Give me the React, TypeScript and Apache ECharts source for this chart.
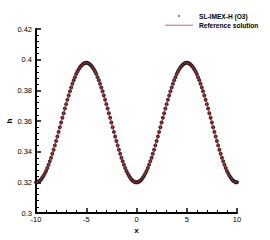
import React, { useEffect, useRef } from "react";
import * as echarts from "echarts";

const xNumerical = [
  -10, -9.875, -9.75, -9.625, -9.5, -9.375, -9.25, -9.125,
  -9, -8.875, -8.75, -8.625, -8.5, -8.375, -8.25, -8.125,
  -8, -7.875, -7.75, -7.625, -7.5, -7.375, -7.25, -7.125,
  -7, -6.875, -6.75, -6.625, -6.5, -6.375, -6.25, -6.125,
  -6, -5.875, -5.75, -5.625, -5.5, -5.375, -5.25, -5.125,
  -5, -4.875, -4.75, -4.625, -4.5, -4.375, -4.25, -4.125,
  -4, -3.875, -3.75, -3.625, -3.5, -3.375, -3.25, -3.125,
  -3, -2.875, -2.75, -2.625, -2.5, -2.375, -2.25, -2.125,
  -2, -1.875, -1.75, -1.625, -1.5, -1.375, -1.25, -1.125,
  -1, -0.875, -0.75, -0.625, -0.5, -0.375, -0.25, -0.125,
  0, 0.125, 0.25, 0.375, 0.5, 0.625, 0.75, 0.875,
  1, 1.125, 1.25, 1.375, 1.5, 1.625, 1.75, 1.875,
  2, 2.125, 2.25, 2.375, 2.5, 2.625, 2.75, 2.875,
  3, 3.125, 3.25, 3.375, 3.5, 3.625, 3.75, 3.875,
  4, 4.125, 4.25, 4.375, 4.5, 4.625, 4.75, 4.875,
  5, 5.125, 5.25, 5.375, 5.5, 5.625, 5.75, 5.875,
  6, 6.125, 6.25, 6.375, 6.5, 6.625, 6.75, 6.875,
  7, 7.125, 7.25, 7.375, 7.5, 7.625, 7.75, 7.875,
  8, 8.125, 8.25, 8.375, 8.5, 8.625, 8.75, 8.875,
  9, 9.125, 9.25, 9.375, 9.5, 9.625, 9.75, 9.875,
  10,
];

const hNumerical = [
  0.3200, 0.3201, 0.3205, 0.3211, 0.3219, 0.3230, 0.3243, 0.3257, 0.3274, 0.3293,
  0.3314, 0.3337, 0.3361, 0.3386, 0.3413, 0.3441, 0.3470, 0.3499, 0.3529, 0.3559,
  0.3590, 0.3621, 0.3651, 0.3681, 0.3710, 0.3739, 0.3767, 0.3794, 0.3819, 0.3843,
  0.3866, 0.3886, 0.3906, 0.3923, 0.3938, 0.3950, 0.3961, 0.3969, 0.3975, 0.3979,
  0.3980,
  0.3979, 0.3975, 0.3969, 0.3961, 0.3950, 0.3938, 0.3923, 0.3906, 0.3886, 0.3866,
  0.3843, 0.3819, 0.3794, 0.3767, 0.3739, 0.3710, 0.3681, 0.3651, 0.3621, 0.3590,
  0.3559, 0.3529, 0.3499, 0.3470, 0.3441, 0.3413, 0.3386, 0.3361, 0.3337, 0.3314,
  0.3293, 0.3274, 0.3257, 0.3243, 0.3230, 0.3219, 0.3211, 0.3205, 0.3201, 0.3200,
  0.3201, 0.3205, 0.3211, 0.3219, 0.3230, 0.3243, 0.3257, 0.3274, 0.3293,
  0.3314, 0.3337, 0.3361, 0.3386, 0.3413, 0.3441, 0.3470, 0.3499, 0.3529, 0.3559,
  0.3590, 0.3621, 0.3651, 0.3681, 0.3710, 0.3739, 0.3767, 0.3794, 0.3819, 0.3843,
  0.3866, 0.3886, 0.3906, 0.3923, 0.3938, 0.3950, 0.3961, 0.3969, 0.3975, 0.3979,
  0.3980,
  0.3979, 0.3975, 0.3969, 0.3961, 0.3950, 0.3938, 0.3923, 0.3906, 0.3886, 0.3866,
  0.3843, 0.3819, 0.3794, 0.3767, 0.3739, 0.3710, 0.3681, 0.3651, 0.3621, 0.3590,
  0.3559, 0.3529, 0.3499, 0.3470, 0.3441, 0.3413, 0.3386, 0.3361, 0.3337, 0.3314,
  0.3293, 0.3274, 0.3257, 0.3243, 0.3230, 0.3219, 0.3211, 0.3205, 0.3201, 0.3200,
];

const xReference = [
  -10, -9.75, -9.5, -9.25, -9, -8.75, -8.5, -8.25, -8, -7.75,
  -7.5, -7.25, -7, -6.75, -6.5, -6.25, -6, -5.75, -5.5, -5.25,
  -5, -4.75, -4.5, -4.25, -4, -3.75, -3.5, -3.25, -3, -2.75,
  -2.5, -2.25, -2, -1.75, -1.5, -1.25, -1, -0.75, -0.5, -0.25,
  0, 0.25, 0.5, 0.75, 1, 1.25, 1.5, 1.75, 2, 2.25,
  2.5, 2.75, 3, 3.25, 3.5, 3.75, 4, 4.25, 4.5, 4.75,
  5, 5.25, 5.5, 5.75, 6, 6.25, 6.5, 6.75, 7, 7.25,
  7.5, 7.75, 8, 8.25, 8.5, 8.75, 9, 9.25, 9.5, 9.75,
  10,
];

const hReference = [
  0.3200, 0.3205, 0.3219, 0.3243, 0.3274, 0.3314, 0.3361, 0.3413, 0.3470, 0.3529,
  0.3590, 0.3651, 0.3710, 0.3767, 0.3819, 0.3866, 0.3906, 0.3938, 0.3961, 0.3975,
  0.3980, 0.3975, 0.3961, 0.3938, 0.3906, 0.3866, 0.3819, 0.3767, 0.3710, 0.3651,
  0.3590, 0.3529, 0.3470, 0.3413, 0.3361, 0.3314, 0.3274, 0.3243, 0.3219, 0.3205,
  0.3200, 0.3205, 0.3219, 0.3243, 0.3274, 0.3314, 0.3361, 0.3413, 0.3470, 0.3529,
  0.3590, 0.3651, 0.3710, 0.3767, 0.3819, 0.3866, 0.3906, 0.3938, 0.3961, 0.3975,
  0.3980, 0.3975, 0.3961, 0.3938, 0.3906, 0.3866, 0.3819, 0.3767, 0.3710, 0.3651,
  0.3590, 0.3529, 0.3470, 0.3413, 0.3361, 0.3314, 0.3274, 0.3243, 0.3219, 0.3205,
  0.3200,
];

const seriesNames = ["SL-IMEX-H (O3)", "Reference solution"];

const FONT = "Liberation Sans, Arial, sans-serif";

export default function App() {
  const ref = useRef<HTMLDivElement>(null);

  useEffect(() => {
    if (!ref.current) return;
    const chart = echarts.init(ref.current, undefined, { renderer: "svg" });
    const makeAxisStyle = () => ({
      axisLine: { show: true, onZero: false, lineStyle: { color: "#000", width: 2 } },
      axisTick: { show: true, inside: true, length: 5, lineStyle: { color: "#000", width: 1.5 } },
      minorTick: { show: true, splitNumber: 5, length: 3, lineStyle: { color: "#000", width: 1 } },
      splitLine: { show: false },
      minorSplitLine: { show: false },
      nameMoveOverlap: false,
    });
    const legendText = {
      fontFamily: FONT,
      fontSize: 6.6,
      fontWeight: "bold",
      fill: "#000",
      verticalAlign: "middle",
      align: "left",
    };
    chart.setOption({
      animation: false,
      backgroundColor: "#fff",
      grid: {
        left: 36,
        right: 33,
        top: 29,
        bottom: 27,
        containLabel: false,
        outerBoundsMode: "none",
      },
      graphic: [
        { type: "circle", shape: { cx: 179, cy: 16, r: 1.2 }, style: { fill: "#8a8a8a" } },
        { type: "text", x: 199, y: 16, style: { ...legendText, text: seriesNames[0] } },
        { type: "line", shape: { x1: 165, y1: 25.3, x2: 193, y2: 25.3 }, style: { stroke: "#f08a8a", lineWidth: 1.4 } },
        { type: "text", x: 199, y: 25, style: { ...legendText, text: seriesNames[1] } },
      ],
      xAxis: {
        type: "value",
        min: -10,
        max: 10,
        interval: 5,
        name: "x",
        nameLocation: "middle",
        nameGap: 13,
        nameTextStyle: { fontFamily: FONT, fontSize: 8, fontWeight: "bold", color: "#000" },
        axisLabel: { fontFamily: FONT, fontSize: 7.5, color: "#000", margin: 2 },
        ...makeAxisStyle(),
      },
      yAxis: {
        type: "value",
        min: 0.3,
        max: 0.42,
        interval: 0.02,
        name: "h",
        nameLocation: "middle",
        nameRotate: 90,
        nameGap: 23,
        nameTextStyle: { fontFamily: FONT, fontSize: 8, fontWeight: "bold", color: "#000" },
        axisLabel: {
          fontFamily: FONT,
          fontSize: 7.5,
          color: "#000",
          margin: 4,
          formatter: (v: number) => String(parseFloat(v.toFixed(2))),
        },
        ...makeAxisStyle(),
      },
      series: [
        {
          name: seriesNames[0],
          type: "scatter",
          symbol: "circle",
          symbolSize: 4,
          itemStyle: { color: "#1c1c1c", opacity: 0.9 },
          data: xNumerical.map((x, i) => [x, hNumerical[i]]),
          z: 2,
        },
        {
          name: seriesNames[1],
          type: "line",
          symbol: "none",
          showSymbol: false,
          lineStyle: { color: "#d8202a", width: 1 },
          data: xReference.map((x, i) => [x, hReference[i]]),
          z: 3,
        },
      ],
    });
    return () => chart.dispose();
  }, []);

  return (
    <div
      ref={ref}
      style={{ position: "fixed", left: 0, top: 0, width: 270, height: 240, background: "#fff" }}
    />
  );
}
